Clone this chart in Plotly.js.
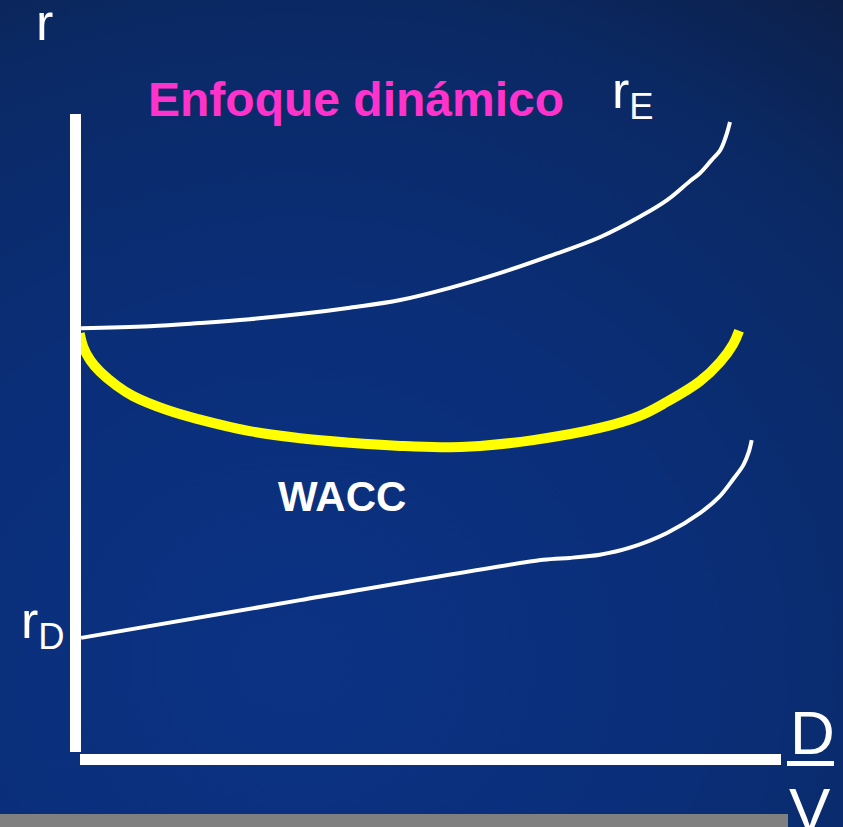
<!DOCTYPE html>
<html>
<head>
<meta charset="utf-8">
<script src="https://cdn.plot.ly/plotly-3.0.1.min.js"></script>
<style>
	html, body {
		margin: 0;
		padding: 0;
		width: 843px;
		height: 827px;
		overflow: hidden;
		background: radial-gradient(ellipse 120% 110% at 35% 80%, #0b3284 0%, #0a2e78 40%, #0a2964 72%, #0e1b3c 100%);
	}
	#grafico {
		width: 843px;
		height: 827px;
	}
</style>
</head>
<body>
<div id="grafico"></div>
<script>
// Curvas del enfoque dinámico (x = D/V, y = r)
const reX = [0.008, 0.106, 0.178, 0.249, 0.321, 0.392, 0.464, 0.535, 0.606, 0.678, 0.749, 0.806, 0.845, 0.878, 0.892, 0.909, 0.921, 0.929, 0.935];
const reY = [0.674, 0.677, 0.682, 0.688, 0.696, 0.706, 0.718, 0.737, 0.760, 0.787, 0.816, 0.848, 0.874, 0.904, 0.916, 0.937, 0.952, 0.973, 0.996];

const waccX = [0.006, 0.011, 0.021, 0.035, 0.059, 0.082, 0.131, 0.178, 0.249, 0.321, 0.392, 0.464, 0.521, 0.578, 0.654, 0.749, 0.806, 0.845, 0.892, 0.921, 0.939, 0.948];
const waccY = [0.666, 0.645, 0.624, 0.606, 0.584, 0.568, 0.546, 0.531, 0.513, 0.502, 0.495, 0.490, 0.488, 0.490, 0.499, 0.518, 0.537, 0.559, 0.591, 0.621, 0.648, 0.670];

const rdX = [0.008, 0.321, 0.668, 0.706, 0.749, 0.792, 0.845, 0.892, 0.921, 0.939, 0.954, 0.962, 0.966];
const rdY = [0.190, 0.249, 0.312, 0.315, 0.320, 0.331, 0.354, 0.385, 0.412, 0.437, 0.460, 0.481, 0.499];

const etiquetas = {
	titulo: "Enfoque dinámico",
	eje: "r",
	re: "r<sub>E</sub>",
	rd: "r<sub>D</sub>",
	wacc: "WACC",
	num: "D",
	den: "V",
};

const W = 843;
const H = 827;
// origen de los ejes en pixeles y escala
const ox = 75.5, oy = 759.5, sx = 700, sy = 640;

// posiciones en coordenadas de papel a partir de pixeles
function px(x) { return x / W; }
function py(y) { return 1 - y / H; }

const fuente = "Arial, 'Liberation Sans', sans-serif";

function crearGrafico() {
	let traces = [
		{
			x: reX, y: reY, type: "scatter", mode: "lines",
			line: { color: "#ffffff", width: 4, shape: "spline", smoothing: 1.1 },
			hoverinfo: "skip",
		},
		{
			x: waccX, y: waccY, type: "scatter", mode: "lines",
			line: { color: "#ffff00", width: 10, shape: "spline", smoothing: 1.1 },
			hoverinfo: "skip",
		},
		{
			x: rdX, y: rdY, type: "scatter", mode: "lines",
			line: { color: "#ffffff", width: 4, shape: "spline", smoothing: 0.8 },
			hoverinfo: "skip",
		},
	];

	let anot = (texto, x, y, size, color, bold) => ({
		text: bold ? "<b>" + texto + "</b>" : texto,
		xref: "paper", yref: "paper",
		x: px(x), y: py(y),
		xanchor: "center", yanchor: "middle",
		showarrow: false,
		font: { family: fuente, size: size, color: color },
	});

	let layout = {
		width: W,
		height: H,
		margin: { l: 0, r: 0, t: 0, b: 0 },
		paper_bgcolor: "rgba(0,0,0,0)",
		plot_bgcolor: "rgba(0,0,0,0)",
		showlegend: false,
		xaxis: {
			range: [-ox / sx, (W - ox) / sx],
			visible: false, fixedrange: true,
		},
		yaxis: {
			range: [-(H - oy) / sy, oy / sy],
			visible: false, fixedrange: true,
		},
		shapes: [
			// barra gris inferior
			{ type: "rect", xref: "paper", yref: "paper", x0: 0, x1: px(788), y0: py(827), y1: py(814),
				fillcolor: "#808080", line: { width: 0 }, layer: "below" },
			// eje vertical
			{ type: "line", xref: "x", yref: "y", x0: 0, x1: 0, y0: (oy - 752) / sy, y1: (oy - 114) / sy,
				line: { color: "#ffffff", width: 11 } },
			// eje horizontal
			{ type: "line", xref: "x", yref: "y", x0: (80 - ox) / sx, x1: (781 - ox) / sx, y0: 0, y1: 0,
				line: { color: "#ffffff", width: 11 } },
			// raya de la fracción D/V
			{ type: "rect", xref: "paper", yref: "paper", x0: px(787), x1: px(834), y0: py(766), y1: py(761),
				fillcolor: "#ffffff", line: { width: 0 } },
		],
		annotations: [
			anot(etiquetas.eje, 44, 22, 52, "#ffffff", false),
			anot(etiquetas.titulo, 356, 99, 48, "#ff33cc", true),
			anot(etiquetas.re, 633, 94, 52, "#ffffff", false),
			anot(etiquetas.wacc, 342, 496, 42, "#ffffff", true),
			anot(etiquetas.rd, 43, 624, 52, "#ffffff", false),
			anot(etiquetas.num, 812, 732, 62, "#ffffff", false),
			anot(etiquetas.den, 810, 809, 62, "#ffffff", false),
		],
	};

	Plotly.newPlot("grafico", traces, layout, { staticPlot: true, displayModeBar: false });
}

document.addEventListener("DOMContentLoaded", crearGrafico);
</script>
</body>
</html>
